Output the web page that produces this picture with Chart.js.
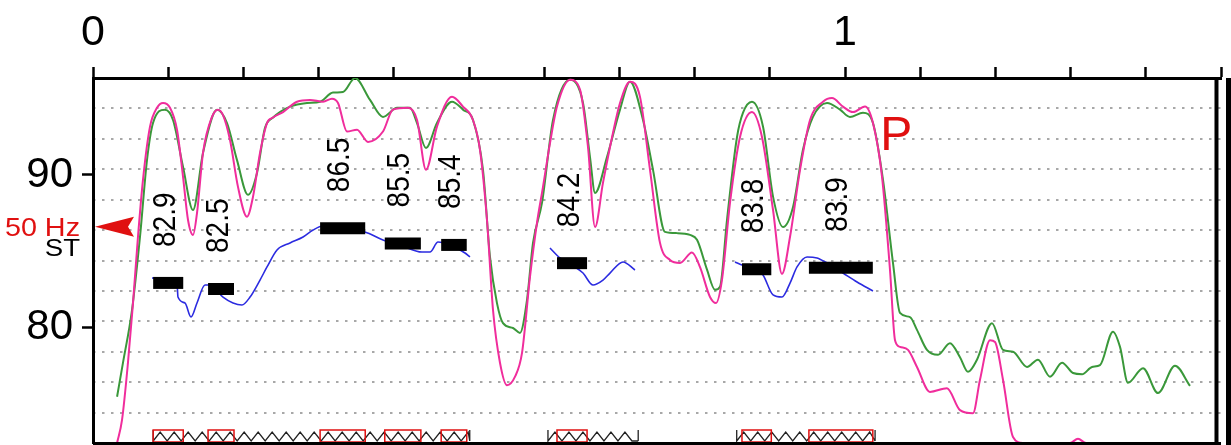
<!DOCTYPE html>
<html>
<head>
<meta charset="utf-8">
<script src="https://cdn.jsdelivr.net/npm/chart.js@4.4.0/dist/chart.umd.min.js"></script>
<style>
html, body { margin: 0; padding: 0; background: #fff; overflow: hidden; }
canvas { display: block; }
</style>
</head>
<body>
<canvas id="prosody" width="1231" height="445"></canvas>
<script>
const pink = "#f02d9c";
const green = "#3a983a";
const blue = "#2b2be0";
const red = "#e01010";
const font = "'Liberation Sans', Arial, Helvetica, sans-serif";

// time axis (s)
const xTickValues = [0, 0.1, 0.2, 0.3, 0.4, 0.5, 0.6, 0.7, 0.8, 0.9, 1, 1.1, 1.2, 1.3, 1.4, 1.5];
const xTickLabels = ["0", "", "", "", "", "", "", "", "", "", "1", "", "", "", "", ""];
// pitch axis (ST)
const yTickValues = [80, 90];
const refST = 86.6;   // 50 Hz reference arrow
const cursorTime = 1.494;

// intensity curves: [time, dB]
const pinkDb = [[0.032,30.0],[0.0386,33.8],[0.0465,43.2],[0.0532,53.0],[0.0598,63.9],[0.0665,73.3],[0.0758,82.0],[0.0851,85.1],[0.0931,85.9],[0.1024,85.1],[0.1117,81.5],[0.1197,73.8],[0.1263,66.7],[0.133,64.2],[0.1383,67.8],[0.1463,77.7],[0.1582,83.6],[0.1662,84.8],[0.1729,83.9],[0.1822,79.8],[0.1928,72.1],[0.2048,67.2],[0.2128,70.5],[0.2221,77.7],[0.2314,82.6],[0.2394,83.5],[0.2527,84.4],[0.2713,86.1],[0.2886,86.4],[0.3059,86.1],[0.3178,86.6],[0.3258,85.9],[0.3378,81.2],[0.3511,81.5],[0.3657,79.5],[0.3856,81.2],[0.3989,84.8],[0.4189,85.1],[0.4309,83.1],[0.4428,74.9],[0.4574,82.0],[0.4774,86.9],[0.492,85.3],[0.5053,83.1],[0.5146,78.2],[0.5239,66.7],[0.5319,51.9],[0.5412,43.2],[0.5505,39.5],[0.5612,40.9],[0.5705,44.8],[0.5811,57.3],[0.5904,66.2],[0.5984,72.1],[0.6077,79.3],[0.617,85.3],[0.6343,89.7],[0.6476,88.1],[0.6582,78.7],[0.6676,65.5],[0.6782,72.8],[0.6915,81.0],[0.7008,85.9],[0.7141,89.4],[0.7274,86.9],[0.7407,74.9],[0.754,62.9],[0.7673,60.1],[0.7806,59.6],[0.7965,61.3],[0.8072,58.9],[0.8205,54.0],[0.8285,53.0],[0.8364,56.8],[0.8471,69.5],[0.8604,80.3],[0.8763,84.4],[0.8896,80.3],[0.9043,68.3],[0.9162,57.8],[0.9269,63.9],[0.9402,74.9],[0.9535,83.1],[0.9707,86.1],[0.9827,86.7],[0.9973,85.3],[1.0106,84.4],[1.0266,85.3],[1.0372,82.6],[1.0492,73.8],[1.0598,58.5],[1.0665,46.9],[1.0731,45.8],[1.0838,45.3],[1.0957,42.5],[1.113,38.4],[1.1356,39.0],[1.1529,35.4],[1.1702,34.9],[1.1795,40.4],[1.1928,46.9],[1.1995,46.6],[1.2101,40.4],[1.2234,31.0],[1.2367,30.0],[1.2992,30.0],[1.3098,30.7],[1.3205,30.0],[1.4628,30.0]];
const greenDb = [[0.032,37.6],[0.0399,43.2],[0.0519,51.9],[0.0625,63.9],[0.0718,76.5],[0.0798,82.6],[0.0957,84.8],[0.1064,83.1],[0.1197,75.4],[0.133,68.3],[0.1463,77.7],[0.1649,84.8],[0.1782,82.6],[0.1915,76.5],[0.2061,70.8],[0.2181,74.4],[0.2287,81.8],[0.2394,83.5],[0.262,85.3],[0.2846,85.9],[0.3019,86.1],[0.3191,87.6],[0.3324,87.7],[0.3484,90.0],[0.3684,86.4],[0.3856,83.6],[0.4043,85.1],[0.4215,85.1],[0.4309,82.6],[0.4428,78.5],[0.4574,82.6],[0.4774,86.1],[0.492,84.8],[0.5053,83.1],[0.5186,74.9],[0.5279,60.6],[0.5372,53.0],[0.5452,49.7],[0.5585,48.9],[0.5678,48.1],[0.5771,53.5],[0.5851,62.9],[0.5971,69.5],[0.6117,83.1],[0.6343,89.7],[0.6516,85.9],[0.6609,77.0],[0.6676,71.1],[0.6835,77.0],[0.7008,84.8],[0.7141,89.4],[0.7314,83.1],[0.7447,74.9],[0.7606,64.7],[0.7766,64.5],[0.7939,64.2],[0.8032,63.4],[0.8165,58.5],[0.8271,55.2],[0.8338,55.7],[0.8431,66.7],[0.8564,80.3],[0.8644,84.3],[0.8763,86.1],[0.891,82.0],[0.9043,70.5],[0.9176,65.5],[0.9309,68.8],[0.9441,78.2],[0.9574,83.6],[0.9761,85.9],[0.9934,84.8],[1.0066,83.6],[1.0239,84.3],[1.0372,82.6],[1.0505,73.3],[1.0638,59.6],[1.0731,51.4],[1.0864,50.7],[1.0957,48.6],[1.109,45.3],[1.1237,44.5],[1.1396,46.4],[1.1529,44.1],[1.1636,41.7],[1.1755,43.7],[1.1955,49.7],[1.2101,45.3],[1.2234,45.0],[1.242,42.5],[1.2566,43.7],[1.2726,40.9],[1.2886,43.2],[1.3032,41.5],[1.3152,41.3],[1.3285,42.5],[1.3391,42.8],[1.3564,48.3],[1.3657,45.8],[1.3763,39.9],[1.3963,42.3],[1.4162,38.2],[1.4388,42.7],[1.4588,39.4]];

// pitch: [time, ST], three voiced stretches
const pitchA = [[0.0785,83.22],[0.1117,82.89],[0.113,81.97],[0.1223,81.58],[0.1303,80.66],[0.1383,81.58],[0.1489,82.76],[0.1556,82.76],[0.1729,81.97],[0.1862,81.58],[0.1981,81.45],[0.2088,81.97],[0.2221,83.09],[0.2314,83.95],[0.2447,85.07],[0.262,85.53],[0.2793,85.92],[0.2926,86.38],[0.3059,86.64],[0.3285,86.51],[0.3617,86.25],[0.3856,85.72],[0.4082,85.39],[0.4375,84.93],[0.4481,84.93],[0.4588,85.59],[0.4747,85.39],[0.4947,84.87],[0.5013,84.61]];
const pitchB = [[0.6077,85.2],[0.621,84.54],[0.637,84.08],[0.6516,83.55],[0.6649,82.76],[0.6782,83.09],[0.6875,83.55],[0.7048,84.28],[0.7207,83.75]];
const pitchC = [[0.8537,84.28],[0.863,84.08],[0.8803,83.88],[0.891,83.42],[0.9043,82.11],[0.9162,81.97],[0.9269,82.89],[0.9362,83.95],[0.9495,84.61],[0.9628,84.54],[0.9761,84.21],[0.9973,83.55],[1.016,82.96],[1.0372,82.37]];

// syllable nuclei: start, end, mean pitch (ST)
const sylStart = [0.080, 0.153, 0.302, 0.388, 0.463, 0.617, 0.863, 0.952];
const sylEnd   = [0.120, 0.1875, 0.362, 0.436, 0.497, 0.657, 0.902, 1.037];
const sylST    = [82.9, 82.5, 86.5, 85.5, 85.4, 84.2, 83.8, 83.9];

// voiced stretches shown as zigzag at the bottom
const zigStart = [0.080, 0.605, 0.856];
const zigEnd   = [0.501, 0.725, 1.040];

function pts(arr) {
    return arr.map(p => ({ x: p[0], y: p[1] }));
}

var datasets = [];

// Build chart
for (let i = 0; i < sylST.length; i++) {
    datasets.push({
        data: [{ x: sylStart[i], y: sylST[i] }, { x: sylEnd[i], y: sylST[i] }],
        yAxisID: "y",
        borderColor: "#000",
        borderWidth: 12,
        borderCapStyle: "butt",
        pointRadius: 0
    });
}
for (let seg of [pitchA, pitchB, pitchC]) {
    datasets.push({
        data: pts(seg),
        yAxisID: "y",
        borderColor: blue,
        borderWidth: 1.6,
        pointRadius: 0,
        cubicInterpolationMode: "monotone"
    });
}
datasets.push({
    data: pts(pinkDb),
    yAxisID: "yI",
    borderColor: pink,
    borderWidth: 2,
    pointRadius: 0,
    cubicInterpolationMode: "monotone"
});
datasets.push({
    data: pts(greenDb),
    yAxisID: "yI",
    borderColor: green,
    borderWidth: 2,
    pointRadius: 0,
    cubicInterpolationMode: "monotone"
});

// the source picture is a little wider than tall, so text is stretched
const stretch = 1.15;

const decorations = {
    id: "decorations",
    afterDraw(chart) {
        const ctx = chart.ctx;
        const x = chart.scales.x;
        const y = chart.scales.y;
        const yI = chart.scales.yI;
        const area = chart.chartArea;
        ctx.save();

        // syllable values, rotated
        ctx.fillStyle = "#000";
        ctx.font = "28px " + font;
        ctx.textAlign = "left";
        ctx.textBaseline = "middle";
        for (let i = 0; i < sylST.length; i++) {
            const cx = x.getPixelForValue((sylStart[i] + sylEnd[i]) / 2) - 2;
            const cy = y.getPixelForValue(sylST[i]) - 36;
            ctx.save();
            ctx.translate(cx, cy);
            ctx.scale(1.1, 1);
            ctx.rotate(-Math.PI / 2);
            ctx.fillText(sylST[i].toFixed(1), 0, 0);
            ctx.restore();
        }

        // reference arrow
        const ay = y.getPixelForValue(refST);
        ctx.fillStyle = red;
        ctx.beginPath();
        ctx.moveTo(area.left + 2, ay);
        ctx.lineTo(area.left + 41, ay - 10);
        ctx.lineTo(area.left + 35, ay);
        ctx.lineTo(area.left + 41, ay + 10);
        ctx.closePath();
        ctx.fill();
        ctx.font = "25px " + font;
        ctx.textAlign = "right";
        ctx.textBaseline = "alphabetic";
        ctx.save();
        ctx.translate(80, ay + 9);
        ctx.scale(stretch, 1);
        ctx.fillText("50 Hz", 0, 0);
        ctx.fillStyle = "#000";
        ctx.font = "24px " + font;
        ctx.fillText("ST", 0, 20);
        ctx.restore();

        // pause marker
        ctx.fillStyle = red;
        ctx.font = "48px " + font;
        ctx.textAlign = "left";
        ctx.fillText("P", x.getPixelForValue(1.047), yI.getPixelForValue(78.2));

        // nucleus boxes and zigzags at the bottom
        const zTop = area.bottom - 11, zBot = area.bottom - 2;
        ctx.strokeStyle = "#222";
        ctx.lineWidth = 1.3;
        for (let i = 0; i < zigStart.length; i++) {
            const x0 = x.getPixelForValue(zigStart[i]);
            const x1 = x.getPixelForValue(zigEnd[i]);
            ctx.beginPath();
            ctx.moveTo(x0, zTop - 2);
            ctx.lineTo(x0, zBot);
            let px = x0, up = true;
            while (px + 7 <= x1) {
                px += 7;
                ctx.lineTo(px, up ? zTop : zBot);
                up = !up;
            }
            ctx.lineTo(x1, zBot);
            ctx.moveTo(x1, zTop - 2);
            ctx.lineTo(x1, zBot);
            ctx.stroke();
        }
        ctx.strokeStyle = red;
        ctx.lineWidth = 1.5;
        for (let i = 0; i < sylStart.length; i++) {
            const x0 = x.getPixelForValue(sylStart[i]);
            const x1 = x.getPixelForValue(sylEnd[i]);
            ctx.strokeRect(x0, area.bottom - 13, x1 - x0, 12);
        }

        // frame: right, bottom, cursor
        ctx.fillStyle = "#000";
        const cx = x.getPixelForValue(cursorTime);
        ctx.fillRect(cx - 2, area.top, 4, area.bottom - area.top);
        ctx.fillRect(area.right + 5, area.top, 5, chart.height - area.top);
        ctx.fillRect(area.left, area.bottom - 1, area.right - area.left, 3);
        ctx.restore();
    }
};

const ctx = document.getElementById("prosody");
var chart = new Chart(ctx, {
    type: "line",
    data: { datasets },
    options: {
        responsive: false,
        animation: false,
        events: [],
        layout: { padding: { top: 0, right: 10, bottom: 2, left: 0 } },
        plugins: { legend: { display: false }, tooltip: { enabled: false } },
        scales: {
            x: {
                type: "linear",
                position: "top",
                min: 0,
                max: 1.5,
                afterFit: s => { s.height = 78; s.paddingLeft = 0; s.paddingRight = 0; },
                afterBuildTicks: s => { s.ticks = xTickValues.map(v => ({ value: v })); },
                ticks: {
                    autoSkip: false,
                    maxRotation: 0,
                    padding: 8,
                    color: "#000",
                    font: { size: 43, family: font },
                    callback: (v, i) => xTickLabels[i]
                },
                grid: { drawOnChartArea: false, drawTicks: true, tickLength: 11, tickWidth: 2.5, tickColor: "#000" },
                border: { display: true, color: "#000", width: 3 }
            },
            y: {
                type: "linear",
                position: "left",
                min: 72.37,
                max: 96.38,
                afterFit: s => { s.width = 93; s.paddingTop = 0; s.paddingBottom = 0; },
                afterBuildTicks: s => { s.ticks = yTickValues.map(v => ({ value: v })); },
                ticks: {
                    padding: 9,
                    color: "#000",
                    font: { size: 42, family: font }
                },
                grid: { drawOnChartArea: false, drawTicks: true, tickLength: 11, tickWidth: 2.5, tickColor: "#000" },
                border: { display: true, color: "#000", width: 3 }
            },
            yI: {
                type: "linear",
                position: "right",
                min: 30,
                max: 90,
                afterFit: s => { s.width = 0; s.paddingTop = 0; s.paddingBottom = 0; },
                ticks: { display: false, stepSize: 5 },
                grid: { drawTicks: false, color: "#a8a8a8", lineWidth: 2 },
                border: { display: false, dash: [2.5, 6.5] }
            }
        }
    },
    plugins: [decorations]
});
</script>
</body>
</html>
